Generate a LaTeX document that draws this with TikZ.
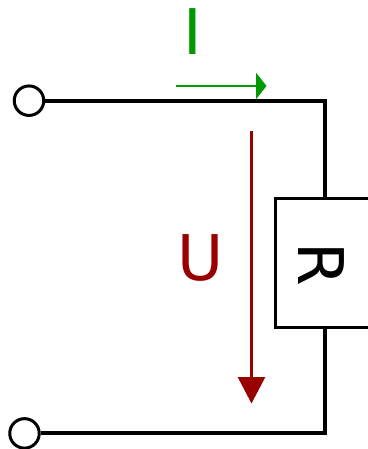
\documentclass[tikz,border=0pt]{standalone}
\usepackage{fontspec}
\setmainfont{DejaVu Sans}
\usetikzlibrary{arrows.meta}
\definecolor{igreen}{RGB}{0,153,0}
\definecolor{ured}{RGB}{153,0,0}
\tikzset{
    wire/.style={line width=4pt, line join=miter},
    terminal/.style={circle, draw, line width=3pt, fill=white, minimum size=29.5pt, inner sep=0pt},
    biglabel/.style={font=\fontsize{63}{63}\selectfont},
}
\begin{document}
\begin{tikzpicture}[x=1pt,y=-1pt]
    \useasboundingbox (0,0) rectangle (367,449);
    \node[terminal] (top) at (29,100.7) {};
    \node[terminal] (bottom) at (24.5,433.4) {};
    \node[draw, line width=3pt, fill=white, minimum width=100pt, minimum height=129.5pt, inner sep=0pt] (R) at (325,263.2) {};
    \node[rotate=-90, biglabel] (Rlabel) at (321,264.5) {R};
    \coordinate (topcorner) at (324.7,100.7);
    \coordinate (botcorner) at (324.7,433.4);
    \draw[wire] (top) -- (topcorner) -- (R.north -| topcorner);
    \draw[wire] (bottom) -- (botcorner) -- (R.south -| botcorner);
    \coordinate (Istart) at (176,86);
    \coordinate (Iend) at (266.5,86);
    \draw[igreen, line width=2.7pt, -{Triangle[length=10.5pt,width=26pt]}] (Istart) -- (Iend);
    \node[igreen, biglabel] (Ilabel) at (192.5,31.5) {I};
    \coordinate (Ustart) at (251.5,131);
    \coordinate (Uend) at (251.5,403.5);
    \draw[ured, line width=2.7pt, -{Triangle[length=26.5pt,width=27pt]}] (Ustart) -- (Uend);
    \node[ured, biglabel] (Ulabel) at (201,258) {U};
\end{tikzpicture}
\end{document}
